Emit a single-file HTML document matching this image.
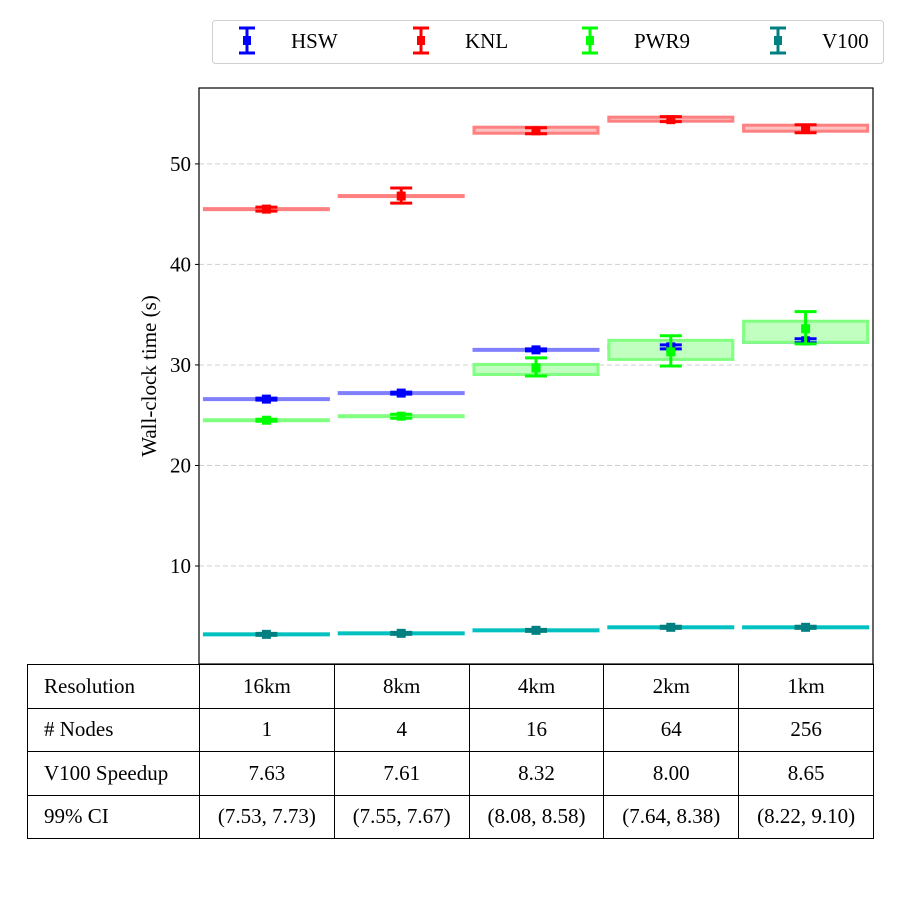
<!DOCTYPE html>
<html><head><meta charset="utf-8">
<style>
body{margin:0;background:#fff;width:900px;height:898px;overflow:hidden;font-family:"Liberation Serif",serif;}
#wrap{position:relative;width:900px;height:898px;}
#chart{position:absolute;left:0;top:0;}
table{position:absolute;left:27px;top:664px;border-collapse:collapse;font-size:21px;table-layout:fixed;width:846px;}
td{border:1.3px solid #000;height:42.5px;padding:0;text-align:center;}
td.h{text-align:left;padding-left:16px;box-sizing:border-box;}
</style></head><body>
<div id="wrap">
<svg id="chart" width="900" height="664"></svg>
<table>
<colgroup><col style="width:172px"><col style="width:134.8px"><col style="width:134.8px"><col style="width:134.8px"><col style="width:134.8px"><col style="width:134.8px"></colgroup>
<tr><td class="h">Resolution</td><td>16km</td><td>8km</td><td>4km</td><td>2km</td><td>1km</td></tr>
<tr><td class="h"># Nodes</td><td>1</td><td>4</td><td>16</td><td>64</td><td>256</td></tr>
<tr><td class="h">V100 Speedup</td><td>7.63</td><td>7.61</td><td>8.32</td><td>8.00</td><td>8.65</td></tr>
<tr><td class="h">99% CI</td><td>(7.53, 7.73)</td><td>(7.55, 7.67)</td><td>(8.08, 8.58)</td><td>(7.64, 8.38)</td><td>(8.22, 9.10)</td></tr>
</table>
</div>
<script>
const categories=["16km","8km","4km","2km","1km"];
const yTicks=[10,20,30,40,50];
const knlMean=[45.5,46.8,53.3,54.4,53.5];
const knlQ1=[45.5,46.8,53.1,54.3,53.3];
const knlQ3=[45.5,46.8,53.6,54.6,53.8];
const knlLo=[45.3,46.1,53.0,54.2,53.1];
const knlHi=[45.7,47.6,53.6,54.7,53.9];
const hswMean=[26.6,27.2,31.5,31.8,32.4];
const hswQ1=[26.6,27.2,31.5,31.8,32.3];
const hswQ3=[26.6,27.2,31.5,31.8,32.5];
const hswLo=[26.5,27.1,31.4,31.6,32.2];
const hswHi=[26.7,27.3,31.6,32.0,32.6];
const pwrMean=[24.5,24.9,29.7,31.3,33.6];
const pwrQ1=[24.5,24.9,29.1,30.6,32.3];
const pwrQ3=[24.5,24.9,30.0,32.4,34.3];
const pwrLo=[24.4,24.7,28.9,29.9,32.1];
const pwrHi=[24.6,25.1,30.7,32.9,35.3];
const v100Mean=[3.2,3.3,3.6,3.9,3.9];
const v100Q1=[3.2,3.3,3.6,3.9,3.9];
const v100Q3=[3.2,3.3,3.6,3.9,3.9];
const v100Lo=[3.1,3.2,3.5,3.8,3.8];
const v100Hi=[3.3,3.4,3.7,4.0,4.0];

(function(){
const NS="http://www.w3.org/2000/svg";
const svgEl=document.getElementById('chart');
const PL=199,PR=873,PT=88,PB=664,YMIN=0.25,YMAX=57.55;
function yPos(v){return PB-(Number(v)-YMIN)/(YMAX-YMIN)*(PB-PT);}
function xPos(i){return PL+(PR-PL)/categories.length*(i+0.5);}
function mk(tag,attrs,parent){const e=document.createElementNS(NS,tag);for(const k in attrs)e.setAttribute(k,String(attrs[k]));(parent||svgEl).appendChild(e);return e;}

yTicks.forEach(function(t){
  const g=mk('line',{x1:PL,x2:PR,y1:yPos(t),y2:yPos(t),stroke:'#d0d0d0','stroke-dasharray':'5,3','stroke-width':1});
  
  
  mk('line',{x1:PL-4,x2:PL,y1:yPos(t),y2:yPos(t),stroke:'#000'});
  const tx=mk('text',{x:PL-8,y:yPos(t)+7,'text-anchor':'end','font-size':21,'font-family':'Liberation Serif, serif'});
  tx.textContent=t;
  
  
});
const title=mk('text',{x:0,y:0,transform:'translate(156,376) rotate(-90)','text-anchor':'middle','font-size':21,'font-family':'Liberation Serif, serif'});
title.textContent='Wall-clock time (s)';



const seriesList=[
 {name:'knl',mean:knlMean,q1:knlQ1,q3:knlQ3,lo:knlLo,hi:knlHi,box:'#ff8080',fill:'#ffc0c0',mark:'#ff0000'},
 {name:'hsw',mean:hswMean,q1:hswQ1,q3:hswQ3,lo:hswLo,hi:hswHi,box:'#8080ff',fill:'#c0c0ff',mark:'#0000ff'},
 {name:'pwr9',mean:pwrMean,q1:pwrQ1,q3:pwrQ3,lo:pwrLo,hi:pwrHi,box:'#80ff80',fill:'#c0ffc0',mark:'#00ff00'},
 {name:'v100',mean:v100Mean,q1:v100Q1,q3:v100Q3,lo:v100Lo,hi:v100Hi,box:'#00c0c0',fill:'#80e0e0',mark:'#008080'}
];
seriesList.forEach(function(s){
  for(let i=0;i<categories.length;i++){
    const cx=xPos(i);
    const top=yPos(s.q3[i]),bot=yPos(s.q1[i]);
    const h=Math.max(bot-top,0);
    const r=mk('rect',{x:cx-62,y:top-0.5,width:124,height:h+1,fill:s.fill,stroke:s.box,'stroke-width':3});
    
    
  }
});
seriesList.forEach(function(s){
  for(let i=0;i<categories.length;i++){
    const cx=xPos(i);
    const g=mk('g',{});
    
    
    const lo=yPos(s.lo[i]),hi=yPos(s.hi[i]),m=yPos(s.mean[i]);
    mk('line',{x1:cx,x2:cx,y1:lo,y2:hi,stroke:s.mark,'stroke-width':3},g);
    mk('line',{x1:cx-11,x2:cx+11,y1:lo,y2:lo,stroke:s.mark,'stroke-width':3},g);
    mk('line',{x1:cx-11,x2:cx+11,y1:hi,y2:hi,stroke:s.mark,'stroke-width':3},g);
    mk('rect',{x:cx-4.5,y:m-4.5,width:9,height:9,fill:s.mark},g);
  }
});
mk('rect',{x:PL,y:PT,width:PR-PL,height:PB-PT,fill:'none',stroke:'#000','stroke-width':1.2});

const lg=mk('g',{});


mk('rect',{x:212.5,y:20.5,width:671,height:43,rx:3,fill:'#fff',stroke:'#d0d0d0'},lg);
const legendItems=[['HSW','#0000ff',247,291],['KNL','#ff0000',421,465],['PWR9','#00ff00',590,634],['V100','#008080',778,822]];
legendItems.forEach(function(it){
  const e=mk('g',{},lg);
  
  
  const x=it[2];
  mk('line',{x1:x,x2:x,y1:28,y2:53,stroke:it[1],'stroke-width':3},e);
  mk('line',{x1:x-8,x2:x+8,y1:28,y2:28,stroke:it[1],'stroke-width':3},e);
  mk('line',{x1:x-8,x2:x+8,y1:53,y2:53,stroke:it[1],'stroke-width':3},e);
  mk('rect',{x:x-4,y:36,width:8,height:9,fill:it[1]},e);
  const t=mk('text',{x:it[3],y:48,'font-size':21,'font-family':'Liberation Serif, serif'},e);
  t.textContent=it[0];
});
})();
</script>
</body></html>
